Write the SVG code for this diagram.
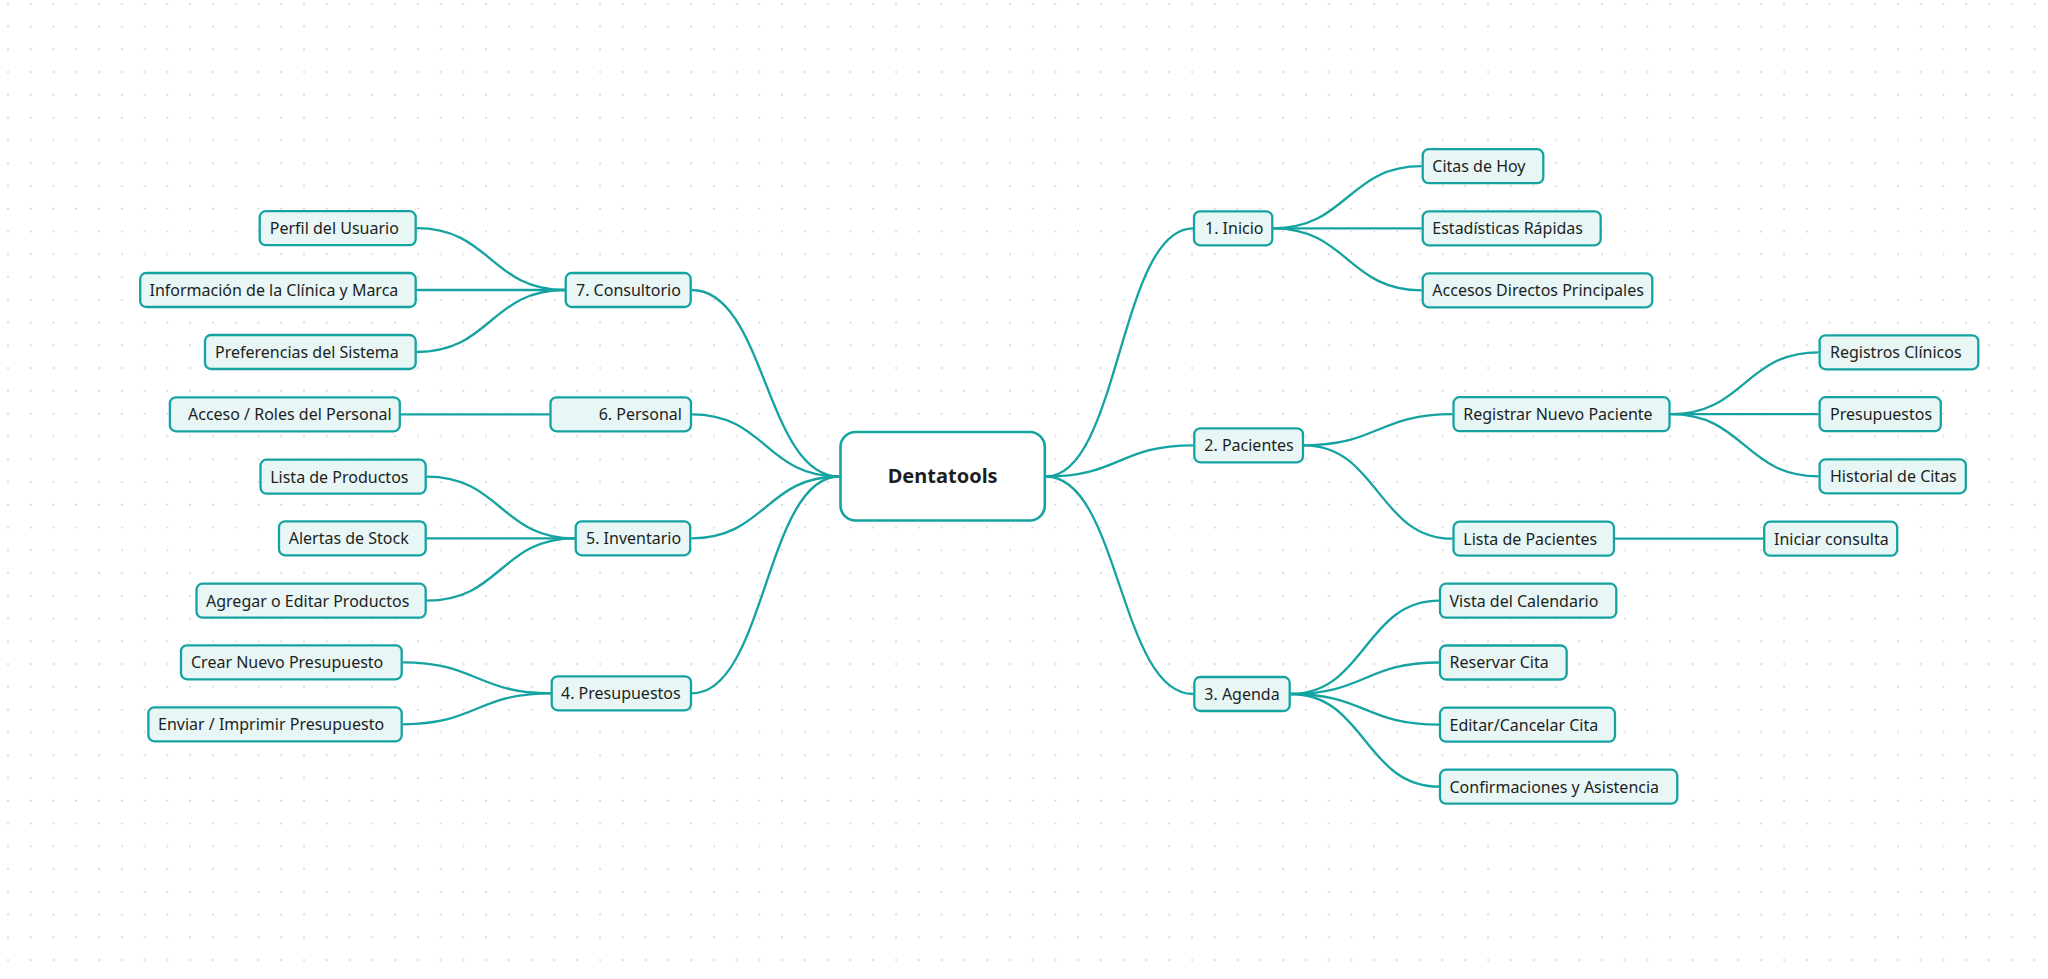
<svg xmlns="http://www.w3.org/2000/svg" width="2048" height="979" viewBox="0 0 2048 979">
<defs>
<pattern id="dots" x="0" y="0" width="22.77" height="22.77" patternUnits="userSpaceOnUse">
<circle cx="8" cy="3.7" r="1.1" fill="#d4d4d4"/>
</pattern>
<style>
.n{fill:#e8f6f6;stroke:#14a3a1;stroke-width:2.3}
.c{fill:#ffffff;stroke:#14a3a1;stroke-width:2.6}
.t{font-family:"Noto Sans","Open Sans",sans-serif;font-size:16px;fill:#1c1f22}
.tc{font-family:"Noto Sans","Open Sans",sans-serif;font-size:20px;font-weight:bold;fill:#1c1f22}
.e{fill:none;stroke:#14a3a1;stroke-width:2.3}
</style>
</defs>
<rect width="2048" height="979" fill="#ffffff"/>
<rect width="2048" height="979" fill="url(#dots)"/>
<g id="connectors">
<path class="e" d="M1046,476.5 C1119.5,476.5 1119.5,228.3 1193,228.3"/>
<path class="e" d="M1046,476.5 C1119.5,476.5 1119.5,445.3 1193,445.3"/>
<path class="e" d="M1046,476.5 C1119.5,476.5 1119.5,694 1193,694"/>
<path class="e" d="M1273.3,228.3 C1347.5,228.3 1347.5,166.2 1421.7,166.2"/>
<path class="e" d="M1273.3,228.3 L1421.7,228.3"/>
<path class="e" d="M1273.3,228.3 C1347.5,228.3 1347.5,290.3 1421.7,290.3"/>
<path class="e" d="M1304,445.3 C1378,445.3 1378,414.2 1452.5,414.2"/>
<path class="e" d="M1304,445.3 C1378,445.3 1378,538.7 1452.5,538.7"/>
<path class="e" d="M1670.5,414.2 C1744.5,414.2 1744.5,352.3 1818.6,352.3"/>
<path class="e" d="M1670.5,414.2 L1818.6,414.2"/>
<path class="e" d="M1670.5,414.2 C1744.5,414.2 1744.5,476.3 1818.6,476.3"/>
<path class="e" d="M1615,538.7 L1763.2,538.7"/>
<path class="e" d="M1290.7,694 C1365,694 1365,600.7 1439,600.7"/>
<path class="e" d="M1290.7,694 C1365,694 1365,662.5 1439,662.5"/>
<path class="e" d="M1290.7,694 C1365,694 1365,724.7 1439,724.7"/>
<path class="e" d="M1290.7,694 C1365,694 1365,786.7 1439,786.7"/>
<path class="e" d="M839.3,476.5 C765.5,476.5 765.5,290 691.7,290"/>
<path class="e" d="M839.3,476.5 C765.5,476.5 765.5,414.3 692,414.3"/>
<path class="e" d="M839.3,476.5 C765.5,476.5 765.5,538.3 691.2,538.3"/>
<path class="e" d="M839.3,476.5 C765.5,476.5 765.5,693.3 692,693.3"/>
<path class="e" d="M564.7,290 C490.7,290 490.7,228.2 416.7,228.2"/>
<path class="e" d="M564.7,290 L416.7,290"/>
<path class="e" d="M564.7,290 C490.7,290 490.7,352 416.7,352"/>
<path class="e" d="M549.5,414.3 L400.8,414.3"/>
<path class="e" d="M574.7,538.3 C500.7,538.3 500.7,476.7 426.7,476.7"/>
<path class="e" d="M574.7,538.3 L426.7,538.3"/>
<path class="e" d="M574.7,538.3 C500.7,538.3 500.7,600.7 426.7,600.7"/>
<path class="e" d="M550.7,693.3 C476.7,693.3 476.7,662.3 402.7,662.3"/>
<path class="e" d="M550.7,693.3 C476.7,693.3 476.7,724.3 402.7,724.3"/>
</g>
<g id="center"><rect class="c" x="840.5" y="432" width="204.3" height="88.5" rx="15"/><text class="tc" x="942.7" y="483.3" text-anchor="middle">Dentatools</text></g>
<g id="inicio"><rect class="n" x="1194" y="211.3" width="78.3" height="34" rx="6"/><text class="t" x="1205" y="234.1">1. Inicio</text></g>
<g id="citas-hoy"><rect class="n" x="1422.7" y="149.2" width="120.6" height="34" rx="6"/><text class="t" x="1432.3" y="172">Citas de Hoy</text></g>
<g id="estadisticas"><rect class="n" x="1422.7" y="211.3" width="178" height="34" rx="6"/><text class="t" x="1432.3" y="234.1">Estadísticas Rápidas</text></g>
<g id="accesos"><rect class="n" x="1422.7" y="273.3" width="229.6" height="34" rx="6"/><text class="t" x="1432.3" y="296.1">Accesos Directos Principales</text></g>
<g id="pacientes"><rect class="n" x="1194.3" y="428.3" width="108.7" height="34" rx="6"/><text class="t" x="1204.3" y="451.1">2. Pacientes</text></g>
<g id="registrar"><rect class="n" x="1453.5" y="397.2" width="216" height="34" rx="6"/><text class="t" x="1463.3" y="420">Registrar Nuevo Paciente</text></g>
<g id="registros"><rect class="n" x="1819.6" y="335.3" width="158.7" height="34" rx="6"/><text class="t" x="1830" y="358.1">Registros Clínicos</text></g>
<g id="presupuestos-p"><rect class="n" x="1819.6" y="397.2" width="121.2" height="34" rx="6"/><text class="t" x="1830" y="420">Presupuestos</text></g>
<g id="historial"><rect class="n" x="1819.6" y="459.3" width="146.2" height="34" rx="6"/><text class="t" x="1830" y="482.1">Historial de Citas</text></g>
<g id="lista-pacientes"><rect class="n" x="1453.5" y="521.7" width="160.5" height="34" rx="6"/><text class="t" x="1463.3" y="544.5">Lista de Pacientes</text></g>
<g id="iniciar"><rect class="n" x="1764.2" y="521.7" width="133" height="34" rx="6"/><text class="t" x="1774" y="544.5">Iniciar consulta</text></g>
<g id="agenda"><rect class="n" x="1194.3" y="677" width="95.4" height="34" rx="6"/><text class="t" x="1204.3" y="699.8">3. Agenda</text></g>
<g id="vista"><rect class="n" x="1440" y="583.7" width="176.3" height="34" rx="6"/><text class="t" x="1449.5" y="606.5">Vista del Calendario</text></g>
<g id="reservar"><rect class="n" x="1440" y="645.5" width="126.7" height="34" rx="6"/><text class="t" x="1449.5" y="668.3">Reservar Cita</text></g>
<g id="editar"><rect class="n" x="1440" y="707.7" width="175" height="34" rx="6"/><text class="t" x="1449.5" y="730.5">Editar/Cancelar Cita</text></g>
<g id="confirmaciones"><rect class="n" x="1440" y="769.7" width="237.3" height="34" rx="6"/><text class="t" x="1449.5" y="792.5">Confirmaciones y Asistencia</text></g>
<g id="consultorio"><rect class="n" x="565.7" y="273" width="125" height="34" rx="6"/><text class="t" x="576" y="295.8">7. Consultorio</text></g>
<g id="perfil"><rect class="n" x="259.7" y="211.2" width="156" height="34" rx="6"/><text class="t" x="269.8" y="234">Perfil del Usuario</text></g>
<g id="informacion"><rect class="n" x="140.2" y="273" width="275.5" height="34" rx="6"/><text class="t" x="149.5" y="295.8">Información de la Clínica y Marca</text></g>
<g id="preferencias"><rect class="n" x="205" y="335" width="210.7" height="34" rx="6"/><text class="t" x="215" y="357.8">Preferencias del Sistema</text></g>
<g id="personal"><rect class="n" x="550.5" y="397.3" width="140.5" height="34" rx="6"/><text class="t" x="598.7" y="420.1">6. Personal</text></g>
<g id="acceso"><rect class="n" x="169.9" y="397.3" width="229.9" height="34" rx="6"/><text class="t" x="188" y="420.1">Acceso / Roles del Personal</text></g>
<g id="inventario"><rect class="n" x="575.7" y="521.3" width="114.5" height="34" rx="6"/><text class="t" x="586" y="544.1">5. Inventario</text></g>
<g id="lista-productos"><rect class="n" x="260.5" y="459.7" width="165.2" height="34" rx="6"/><text class="t" x="270.2" y="482.5">Lista de Productos</text></g>
<g id="alertas"><rect class="n" x="279" y="521.3" width="146.7" height="34" rx="6"/><text class="t" x="288.7" y="544.1">Alertas de Stock</text></g>
<g id="agregar"><rect class="n" x="196.5" y="583.7" width="229.2" height="34" rx="6"/><text class="t" x="206" y="606.5">Agregar o Editar Productos</text></g>
<g id="presupuestos"><rect class="n" x="551.7" y="676.3" width="139.3" height="34" rx="6"/><text class="t" x="561" y="699.1">4. Presupuestos</text></g>
<g id="crear"><rect class="n" x="181" y="645.3" width="220.7" height="34" rx="6"/><text class="t" x="191" y="668.1">Crear Nuevo Presupuesto</text></g>
<g id="enviar"><rect class="n" x="148.4" y="707.3" width="253.3" height="34" rx="6"/><text class="t" x="158" y="730.1">Enviar / Imprimir Presupuesto</text></g>
</svg>
